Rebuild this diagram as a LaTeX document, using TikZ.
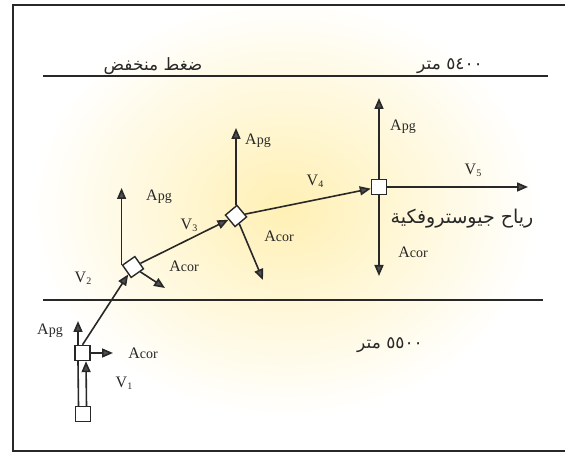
\documentclass[tikz,border=0pt]{standalone}
\usepackage{fontspec}
\setmainfont{Liberation Serif}
\newfontfamily\arabicfont[Script=Arabic]{DejaVu Sans}
\TeXXeTstate=1
\usepackage{xcolor}
\usetikzlibrary{arrows.meta}
\definecolor{ink}{RGB}{40,40,40}
\definecolor{tipgray}{RGB}{80,80,80}
\definecolor{glow}{RGB}{255,240,180}

\newcommand{\Alabel}[1]{A{\fontsize{14}{14}\selectfont #1}}
\newcommand{\Vlabel}[1]{V\raisebox{-2pt}{\fontsize{10}{10}\selectfont #1}}

\begin{document}
\begin{tikzpicture}[
    x=1pt,y=-1pt,
    box/.style={draw=ink,line width=1.4pt,fill=white,minimum size=15pt,inner sep=0pt},
    vec/.style={draw=ink,line width=1.6pt,-{Triangle[length=11pt,width=9pt,fill=tipgray]}},
    level/.style={draw=ink,line width=1.7pt},
    lbl/.style={font=\fontsize{16}{18}\selectfont,text=ink,inner sep=0pt},
    arab/.style={font=\arabicfont\fontsize{17}{19}\selectfont,text=ink,inner sep=0pt}
]
    \useasboundingbox (0,0) rectangle (565,454);

    % Pale glow behind the flow, kept inside the frame.
    \begin{scope}
        \clip (13,5) rectangle (567,451);
        \shade[inner color=glow,outer color=white]
            (285,208) ellipse[x radius=255,y radius=210];
    \end{scope}
    \draw[ink,line width=2pt] (13,5) rectangle (567,451);

    % The two height contours.
    \draw[level] (43,76) -- (548,76);
    \draw[level] (43,300) -- (543,300);
    \node[arab] (low)   at (153,66)  {\beginR ضغط منخفض\endR};
    \node[arab] (h5400) at (450,66)  {\beginR\beginL ٥٤٠٠\endL{} متر\endR};
    \node[arab] (h5500) at (390,345) {\beginR\beginL ٥٥٠٠\endL{} متر\endR};

    % Successive positions of the parcel.
    \node[box] (sq1) at (83,414) {};
    \node[box] (sq2) at (82.5,353) {};
    \node[box,rotate=35] (dm3) at (133,267) {};
    \node[box,rotate=40] (dm4) at (236,216) {};
    \node[box] (sq5) at (379,187) {};

    \coordinate (tip2pg)  at (78,321);
    \coordinate (tip2cor) at (113,353);
    \coordinate (tip3pg)  at (0,188);
    \coordinate (tip3cor) at (165,288);
    \coordinate (tip4pg)  at (236,128);
    \coordinate (tip4cor) at (263,280);
    \coordinate (tip5pg)  at (379,98);
    \coordinate (tip5cor) at (379,276);
    \coordinate (tip5v)   at (528,187);

    % Velocities and accelerations at each step.
    \draw[ink,line width=1.6pt] ([xshift=-4.5pt]sq1.north) -- ([xshift=-4.5pt]sq2.south);
    \draw[vec] ([xshift=3.5pt]sq1.north) -- ([xshift=3.5pt]sq2.south);
    \draw[vec] ([xshift=-4.5pt]sq2.north) -- (tip2pg);
    \draw[vec] (sq2) -- (tip2cor);
    \draw[vec] (sq2.north) -- (dm3);
    \draw[vec] (dm3.north west) -- (dm3.north west |- tip3pg);
    \draw[vec] (dm3) -- (tip3cor);
    \draw[vec] (dm3) -- (dm4);
    \draw[vec] (dm4) -- (tip4pg);
    \draw[vec] (dm4) -- (tip4cor);
    \draw[vec] (dm4) -- (sq5);
    \draw[vec] (sq5) -- (tip5pg);
    \draw[vec] (sq5) -- (tip5cor);
    \draw[vec] (sq5) -- (tip5v);

    \node[lbl] (l2pg)  at (50,331)  {\Alabel{pg}};
    \node[lbl] (l2cor) at (143,353) {\Alabel{cor}};
    \node[lbl] (l1v)   at (124,383) {\Vlabel{1}};
    \node[lbl] (l2v)   at (83,278)  {\Vlabel{2}};
    \node[lbl] (l3pg)  at (159,197) {\Alabel{pg}};
    \node[lbl] (l3cor) at (184,266) {\Alabel{cor}};
    \node[lbl] (l3v)   at (189,225) {\Vlabel{3}};
    \node[lbl] (l4pg)  at (258,141) {\Alabel{pg}};
    \node[lbl] (l4cor) at (279,236) {\Alabel{cor}};
    \node[lbl] (l4v)   at (315,181) {\Vlabel{4}};
    \node[lbl] (l5pg)  at (403,127) {\Alabel{pg}};
    \node[lbl] (l5cor) at (413,252) {\Alabel{cor}};
    \node[lbl] (l5v)   at (473,170) {\Vlabel{5}};
    \node[arab,font=\arabicfont\fontsize{19}{21}\selectfont] (geo) at (462,219)
        {\beginR رياح جيوستروفكية\endR};
\end{tikzpicture}
\end{document}
